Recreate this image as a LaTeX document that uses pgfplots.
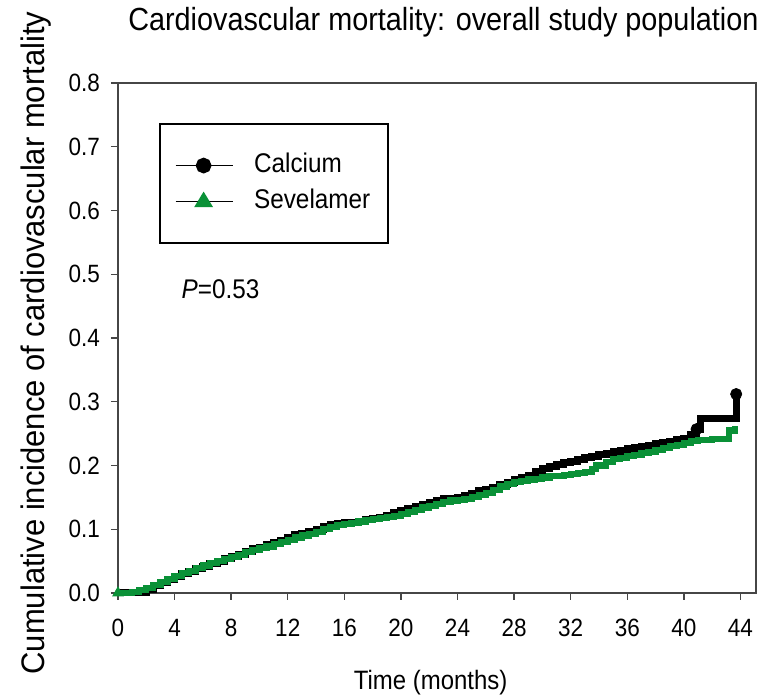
\documentclass[border=0pt]{standalone}
\usepackage{fontspec}
\setmainfont{Liberation Sans}[FakeStretch=0.9]
\newfontfamily\ylabfont{Liberation Sans}[FakeStretch=0.95]
\usepackage{pgfplots}
\pgfplotsset{compat=1.18}
\definecolor{sevgreen}{RGB}{10,145,55}
\definecolor{axgray}{RGB}{70,70,70}
\begin{document}
\begin{tikzpicture}
\begin{axis}[
  name=ax,
  scale only axis,
  clip=false,
  width=319pt, height=255pt,
  xmin=0, xmax=45.1, ymin=0, ymax=0.8,
  xtick={0,4,...,44},
  ytick={0,0.1,...,0.8},
  yticklabel style={/pgf/number format/fixed, /pgf/number format/fixed zerofill, /pgf/number format/precision=1, xshift=-2pt},
  xticklabel style={yshift=-6pt},
  /pgf/number format/assume math mode=true,
  tick label style={font=\fontsize{12.5}{14}\selectfont},
  tick pos=left, tick align=outside,
  major tick length=3.5pt,
  axis line style={axgray, line width=0.9pt},
  every tick/.style={axgray, line width=0.7pt},
  xlabel={Time (months)},
  xlabel style={at={(0.49,-0.175)}, anchor=center, font=\fontsize{13.3}{15}\selectfont},
  ylabel={Cumulative incidence of cardiovascular mortality},
  ylabel style={at={(-0.128,0.49)}, anchor=center, font=\ylabfont\fontsize{16.3}{18}\selectfont},
  legend style={at={(axis cs:2.9,0.737)}, anchor=north west, draw=black, line width=0.8pt,
    inner xsep=7.5pt, inner ysep=13.3pt, row sep=3pt,
    font=\fontsize{13.5}{15}\selectfont,
    nodes={inner sep=1.5pt, text height=9.5pt, text depth=2.5pt},
    legend cell align=left},
]
\addplot[black, line width=3.5pt, const plot,
  legend image code/.code={\draw[black,line width=0.8pt] (0pt,0pt)--(28.5pt,0pt); \fill[black] (14pt,0pt) circle (2.1pt); \path (36pt,0pt);}]
coordinates {
(0,0) (1.5,0.001) (2,0.006) (2.5,0.011) (3,0.016) (3.5,0.021) (4,0.026) (4.5,0.030) (5,0.034) (5.5,0.038) (6,0.042) (6.5,0.046) (7,0.050) (7.5,0.054) (8,0.057) (8.5,0.061) (9,0.065) (9.5,0.069) (10,0.072) (10.5,0.076) (11,0.079) (11.5,0.083) (12,0.087) (12.5,0.091) (13,0.094) (13.5,0.097) (14,0.100) (14.5,0.104) (15,0.107) (15.5,0.109) (16,0.110) (17,0.112) (17.5,0.115) (18,0.117) (18.5,0.119) (19,0.122) (19.5,0.126) (20,0.130) (20.5,0.132) (21,0.135) (21.5,0.139) (22,0.142) (22.5,0.145) (23,0.148) (24,0.150) (24.5,0.153) (25,0.156) (25.5,0.160) (26,0.163) (26.5,0.166) (27,0.170) (27.5,0.174) (28,0.178) (28.5,0.181) (29,0.185) (29.5,0.190) (30,0.195) (30.5,0.199) (31,0.202) (31.5,0.205) (32,0.207) (32.5,0.210) (33,0.212) (33.5,0.214) (34,0.217) (34.5,0.219) (35,0.222) (35.5,0.224) (36,0.226) (36.5,0.228) (37,0.230) (37.5,0.232) (38,0.234) (38.5,0.236) (39,0.238) (39.5,0.240) (40,0.242) (40.5,0.248) (40.9,0.257) (41.2,0.274) (43.7,0.274) (43.7,0.312)
};
\addlegendentry{Calcium}
\addplot[sevgreen, line width=3.1pt, const plot,
  legend image code/.code={\draw[black,line width=0.8pt] (0pt,0pt)--(28.5pt,0pt); \fill[sevgreen] (14pt,2pt)--(12pt,-1.3pt)--(16pt,-1.3pt)--cycle; \path (36pt,0pt);}]
coordinates {
(0,0) (1,0.002) (1.5,0.005) (2,0.008) (2.5,0.012) (3,0.017) (3.5,0.022) (4,0.027) (4.5,0.031) (5,0.035) (5.5,0.039) (6,0.043) (6.5,0.047) (7,0.050) (7.5,0.053) (8,0.056) (8.5,0.060) (9,0.064) (9.5,0.067) (10,0.070) (10.5,0.073) (11,0.077) (11.5,0.080) (12,0.083) (12.5,0.087) (13,0.090) (13.5,0.093) (14,0.096) (14.5,0.100) (15,0.104) (15.5,0.106) (16,0.108) (16.5,0.110) (17,0.112) (17.5,0.114) (18,0.116) (18.5,0.117) (19,0.119) (19.5,0.121) (20,0.124) (20.5,0.127) (21,0.130) (21.5,0.134) (22,0.137) (22.5,0.140) (23,0.143) (23.5,0.145) (24,0.146) (24.5,0.148) (25,0.150) (25.5,0.154) (26,0.157) (26.5,0.162) (27,0.167) (27.5,0.171) (28,0.174) (28.5,0.176) (29,0.178) (29.5,0.179) (30,0.181) (30.5,0.183) (31,0.184) (31.5,0.185) (32,0.187) (32.5,0.188) (33,0.190) (33.5,0.195) (33.8,0.200) (34.5,0.206) (35,0.210) (35.5,0.212) (36,0.215) (36.5,0.217) (37,0.219) (37.5,0.221) (38,0.224) (38.5,0.227) (39,0.230) (39.5,0.232) (40,0.235) (40.5,0.238) (41,0.240) (42,0.241) (43.1,0.241) (43.2,0.255) (43.6,0.262)
};
\addlegendentry{Sevelamer}
\addplot[black, only marks, mark=*, mark size=2.8pt, forget plot] coordinates {(40.9,0.257) (43.7,0.312)};
\addplot[sevgreen, only marks, mark=triangle*, mark size=3pt, forget plot] coordinates {(0,0)};
\node[anchor=west, font=\fontsize{13.5}{15}\selectfont] at (axis cs:4.0,0.477) {\textit{P}=0.53};
\node[anchor=center, font=\fontsize{16}{18}\selectfont] at (rel axis cs:0.51,1.12) {Cardiovascular mortality: overall study population};
\coordinate (bl) at (rel axis cs:0,0);
\coordinate (tr) at (rel axis cs:1,1);
\end{axis}
\pgfresetboundingbox
\path[use as bounding box] ([xshift=-59pt,yshift=-51.5pt]bl) rectangle ([xshift=3.5pt,yshift=41.5pt]tr);
\end{tikzpicture}
\end{document}
